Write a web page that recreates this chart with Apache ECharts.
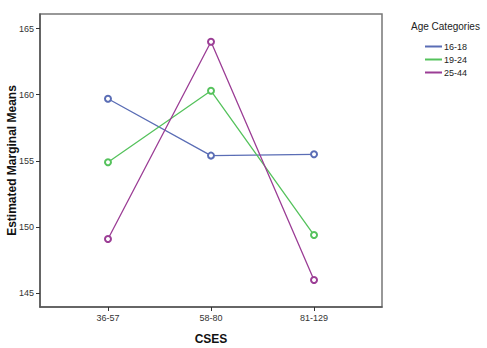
<!DOCTYPE html>
<html>
<head>
<meta charset="utf-8">
<script src="https://cdn.jsdelivr.net/npm/echarts@6/dist/echarts.min.js"></script>
<style>
  html, body { margin: 0; padding: 0; background: #fff; }
  #chartsDiv { width: 487px; height: 348px; }
</style>
</head>
<body>
<div id="chartsDiv"></div>
<script>
var categories = ['36-57', '58-80', '81-129']
var seriesNames = ['16-18', '19-24', '25-44']
var age1618 = [159.7, 155.4, 155.5]
var age1924 = [154.9, 160.3, 149.4]
var age2544 = [149.1, 164.0, 146.0]
var yTicks = [145, 150, 155, 160, 165]

var realChart = echarts.init(document.getElementById('chartsDiv'), null, {
  renderer: 'svg'
})

var toPoints = function(values) {
  return values.map(function(v, i) {
    return [i, v]
  })
}

var makeSeries = function(name, values, color) {
  return {
    name: name,
    type: 'line',
    data: toPoints(values),
    symbol: 'emptyCircle',
    symbolSize: 6,
    lineStyle: { color: color, width: 1.3 },
    itemStyle: { color: color, borderWidth: 1 },
    emphasis: { disabled: true }
  }
}

var option = {
  animation: false,
  textStyle: { fontFamily: 'Liberation Sans, Arial, sans-serif' },
  title: {
    text: 'Age Categories',
    left: 406,
    top: 16,
    textStyle: { fontSize: 10, fontWeight: 'normal', color: '#222' }
  },
  legend: {
    orient: 'vertical',
    left: 420,
    top: 37,
    itemWidth: 17,
    itemHeight: 2,
    itemGap: 4,
    icon: 'rect',
    textStyle: { fontSize: 9, color: '#222', padding: [0, 0, 0, -3] },
    data: seriesNames
  },
  grid: {
    left: 40,
    top: 14,
    right: 105,
    bottom: 41,
    outerBoundsMode: 'none',
    containLabel: false,
    show: true,
    borderColor: '#777',
    borderWidth: 1.5
  },
  xAxis: {
    type: 'value',
    min: -0.66,
    max: 2.66,
    name: 'CSES',
    nameLocation: 'middle',
    nameGap: 26,
    nameMoveOverlap: false,
    nameTextStyle: { fontSize: 12, fontWeight: 'bold', color: '#111' },
    axisLine: { show: true, onZero: false, lineStyle: { color: '#555', width: 1.5 } },
    axisTick: { show: true, length: 4, lineStyle: { color: '#333' }, customValues: [0, 1, 2] },
    axisLabel: {
      fontSize: 9,
      color: '#333',
      margin: 6,
      customValues: [0, 1, 2],
      formatter: function(v) {
        return categories[Math.round(v)]
      }
    },
    splitLine: { show: false }
  },
  yAxis: {
    type: 'value',
    min: 143.96,
    max: 166.1,
    name: 'Estimated Marginal Means',
    nameLocation: 'middle',
    nameGap: 22,
    nameMoveOverlap: false,
    nameTextStyle: { fontSize: 12, fontWeight: 'bold', color: '#111' },
    axisLine: { show: true, onZero: false, lineStyle: { color: '#555', width: 1.5 } },
    axisTick: { show: true, length: 4, lineStyle: { color: '#333' }, customValues: yTicks },
    axisLabel: { fontSize: 9, color: '#333', margin: 6, customValues: yTicks },
    splitLine: { show: false }
  },
  series: [
    makeSeries(seriesNames[0], age1618, '#5a6db5'),
    makeSeries(seriesNames[1], age1924, '#55c25c'),
    makeSeries(seriesNames[2], age2544, '#9b3d95')
  ]
}

realChart.setOption(option)
</script>
</body>
</html>
